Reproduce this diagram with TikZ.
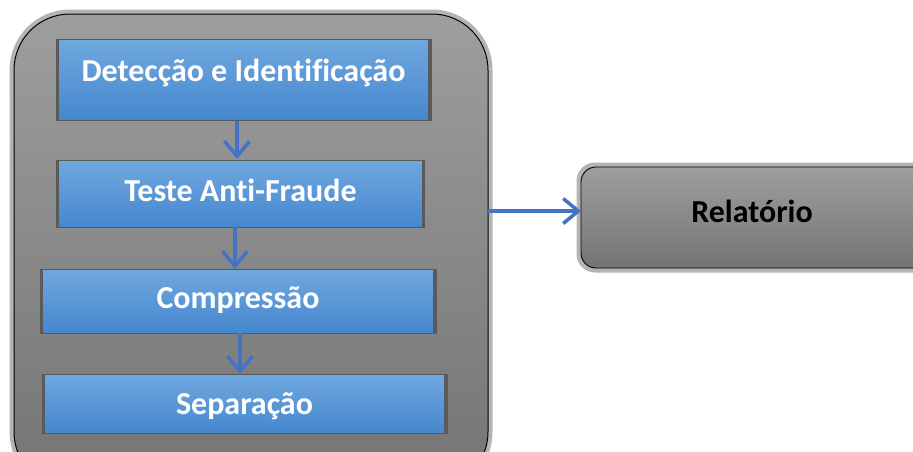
\documentclass[tikz,border=0pt]{standalone}
\usepackage{fontspec}
\setmainfont[Ligatures={NoCommon}]{Carlito}
\usetikzlibrary{arrows.meta,calc}
\definecolor{frameTop}{HTML}{9E9E9E}
\definecolor{frameBot}{HTML}{747474}
\definecolor{rimGray}{HTML}{B4B4B4}
\definecolor{stepTop}{HTML}{70A8DF}
\definecolor{stepBot}{HTML}{4587CE}
\definecolor{stepEdge}{HTML}{5A5A5A}
\definecolor{flowBlue}{HTML}{4472C4}
\tikzset{
  frame/.style={rounded corners=#1, top color=frameTop, bottom color=frameBot,
    draw=black, line width=1pt},
  rim/.style={rounded corners=#1, draw=rimGray, line width=5pt},
  stepbox/.style={rectangle, top color=stepTop, bottom color=stepBot,
    draw=stepEdge, line width=0.8pt, inner sep=0pt},
  sidebar/.style={draw=stepEdge, line width=3pt},
  bigfont/.style={font=\bfseries\fontsize{32}{38}\selectfont},
  steptext/.style={text=white, bigfont},
  flow/.style={draw=flowBlue, line width=3.5pt,
    -{Straight Barb[length=15pt,width=25pt,line width=3.5pt]}},
}
\begin{document}
\begin{tikzpicture}[x=1pt,y=-1pt]
\useasboundingbox (0,0) rectangle (913,451);
\clip (0,0) rectangle (913,451);

% container holding the processing steps
\draw[rim=58pt] (12,12) rectangle (490,490);
\draw[frame=56pt] (14,14) rectangle (488,488);
\coordinate (outR) at (488,211);

% processing steps
\node[stepbox, minimum width=375pt, minimum height=81pt] (det) at (243.5,80) {};
\node[stepbox, minimum width=368pt, minimum height=67pt] (tst) at (240.5,193.5) {};
\node[stepbox, minimum width=396pt, minimum height=64pt] (cmp) at (238,301) {};
\node[stepbox, minimum width=405pt, minimum height=59pt] (sep) at (244.5,403.5) {};
\foreach \n in {det,tst,cmp,sep}{
  \draw[sidebar] ([xshift=1.5pt]\n.north west) -- ([xshift=1.5pt]\n.south west);
  \draw[sidebar] ([xshift=-1.5pt]\n.north east) -- ([xshift=-1.5pt]\n.south east);
}
\node[steptext] at ($(det.center)+(0,-7)$) {Detecção e Identificação};
\node[steptext] at ($(tst.center)+(0,-3)$) {Teste Anti-Fraude};
\node[steptext] at ($(cmp.center)+(0,-1)$) {Compressão};
\node[steptext] at ($(sep.center)+(0,3)$) {Separação};

% report box
\draw[rim=16pt] (579,165) rectangle (930,270);
\draw[frame=15pt, line width=0.9pt] (581,167) rectangle (928,268);
\node[bigfont] (rel) at (752,211) {Relatório};
\coordinate (relL) at (581,211);

% flow arrows
\draw[flow] (237,120.5) -- (237,159);
\draw[flow] (235,227) -- (235,269);
\draw[flow] (240,333) -- (240,374);
\draw[flow] (outR) -- (relL);
\end{tikzpicture}
\end{document}
